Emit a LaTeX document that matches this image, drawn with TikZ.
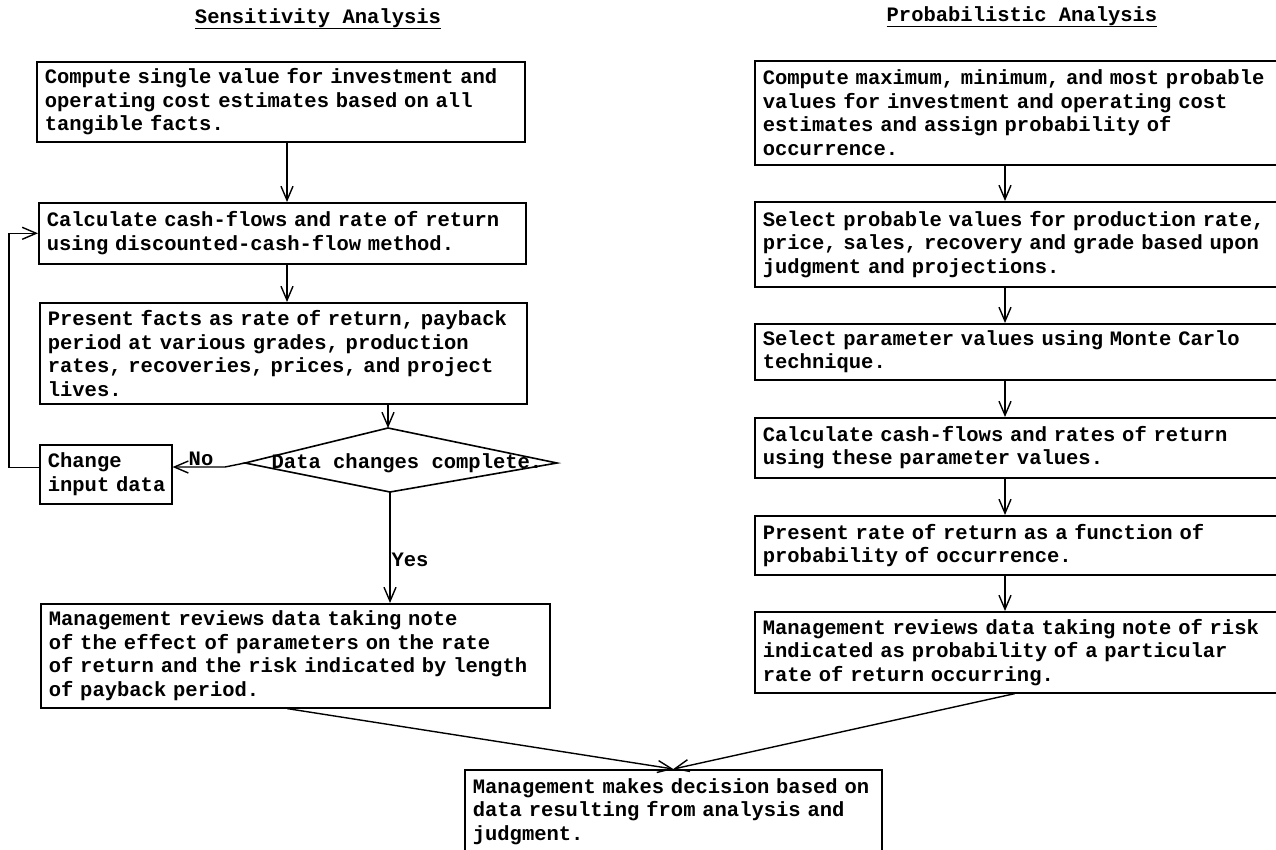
\documentclass[tikz,border=0pt]{standalone}
\usepackage{fontspec}
\newfontfamily\tw{Liberation Mono}
\usetikzlibrary{arrows.meta,calc}
\begin{document}
\begin{tikzpicture}[x=1pt,y=-1pt,
  every node/.style={font=\tw\bfseries\fontsize{20.5}{23.5}\selectfont},
  box/.style={draw, line width=1.6pt, anchor=north west, align=left,
              inner xsep=8pt, inner ysep=3pt},
  arr/.style={line width=1.4pt,
              -{Straight Barb[length=14pt,width=12pt,line width=1.4pt]}},
  lbl/.style={inner sep=0pt}]
\useasboundingbox (0,0) rectangle (1276,849);
\clip (0,0) rectangle (1276,849);

% column headings
\node[lbl, anchor=base] (t1) at (318,23) {\underline{Sensitivity Analysis}};
\node[lbl, anchor=base] (t2) at (1022,21) {\underline{Probabilistic Analysis}};

% reference columns for the vertical connectors
\coordinate (lc) at (287,0);
\coordinate (rc) at (1005,0);

% sensitivity analysis steps
\node[box, minimum width=488pt, minimum height=80pt, text width=472pt] (L1) at (36,61)
  {\mbox{Compute single value for investment and}\\operating cost estimates based on all\\tangible facts.};
\node[box, minimum width=487pt, minimum height=61pt, text width=471pt] (L2) at (38,202)
  {\mbox{Calculate cash-flows and rate of return}\\using discounted-cash-flow method.};
\node[box, minimum width=487pt, minimum height=101pt, text width=471pt] (L3) at (39,302)
  {\mbox{Present facts as rate of return, payback}\\period at various grades, production\\rates, recoveries, prices, and project\\lives.};

% decision diamond
\coordinate (dT) at (388,428);
\coordinate (dR) at (557,463);
\coordinate (dB) at (390,492);
\coordinate (dL) at (245,463);
\draw[line width=1.6pt] (dT) -- (dR) -- (dB) -- (dL) -- cycle;
\node[lbl] (dq) at (407,463) {Data changes complete.};

\node[box, minimum width=132pt, minimum height=59pt, text width=116pt] (chg) at (39,444)
  {Change\\\mbox{input data}};
\node[lbl] (no) at (201,459) {No};
\node[lbl] (yes) at (410,560) {Yes};

\node[box, minimum width=509pt, minimum height=104pt, text width=493pt] (L4) at (40,603)
  {Management reviews data taking note\\\mbox{of the effect of parameters on the rate}\\\mbox{of return and the risk indicated by length}\\of payback period.};

% probabilistic analysis steps
\node[box, minimum width=536pt, minimum height=104pt, text width=520pt] (R1) at (754,60)
  {\mbox{Compute maximum, minimum, and most probable}\\values for investment and operating cost\\estimates and assign probability of\\occurrence.};
\node[box, minimum width=536pt, minimum height=85pt, text width=520pt] (R2) at (754,201)
  {\mbox{Select probable values for production rate,}\\\mbox{price, sales, recovery and grade based upon}\\judgment and projections.};
\node[box, minimum width=536pt, minimum height=56pt, text width=520pt] (R3) at (754,323)
  {Select parameter values using Monte Carlo\\technique.};
\node[box, minimum width=536pt, minimum height=60pt, text width=520pt] (R4) at (754,417)
  {Calculate cash-flows and rates of return\\using these parameter values.};
\node[box, minimum width=536pt, minimum height=59pt, text width=520pt] (R5) at (754,515)
  {Present rate of return as a function of\\probability of occurrence.};
\node[box, minimum width=536pt, minimum height=81pt, text width=520pt] (R6) at (754,611)
  {\mbox{Management reviews data taking note of risk}\\indicated as probability of a particular\\rate of return occurring.};

% final decision
\node[box, minimum width=417pt, minimum height=83pt, text width=401pt] (dec) at (464,769)
  {\mbox{Management makes decision based on}\\data resulting from analysis and\\judgment.};

% connectors, sensitivity side
\draw[arr] (L1.south -| lc) -- (L2.north -| lc);
\draw[arr] (L2.south -| lc) -- (L3.north -| lc);
\draw[arr] (L3.south -| dT) -- (dT);
\draw[arr] (dL) -- ++(-20,4) coordinate (kink) -- (kink -| chg.east);
\draw[arr] ([yshift=7pt]chg.west) -- ++(-30,0) |- (L2.west);
\draw[arr] (dB) -- (dB |- L4.north);

% connectors, probabilistic side
\draw[arr] (R1.south -| rc) -- (R2.north -| rc);
\draw[arr] (R2.south -| rc) -- (R3.north -| rc);
\draw[arr] (R3.south -| rc) -- (R4.north -| rc);
\draw[arr] (R4.south -| rc) -- (R5.north -| rc);
\draw[arr] (R5.south -| rc) -- (R6.north -| rc);

% both analyses lead to the decision
\draw[arr] ([xshift=-8pt]L4.south) -- (dec.north);
\draw[arr] ([xshift=-8pt]R6.south) -- (dec.north);
\end{tikzpicture}
\end{document}
